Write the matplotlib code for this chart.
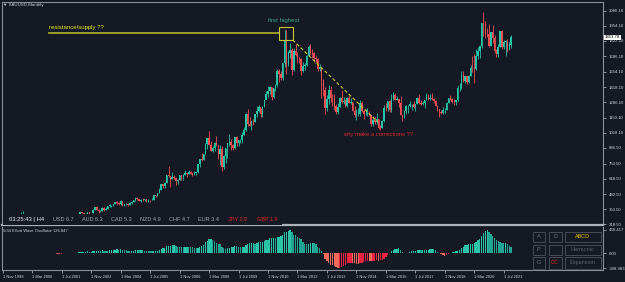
import numpy as np
import matplotlib.pyplot as plt
from matplotlib.patches import Rectangle
from matplotlib.transforms import blended_transform_factory

plt.rcParams['font.family'] = ['Liberation Sans', 'DejaVu Sans']

W, H = 625, 282
BG = '#151924'

# XAUUSD monthly candles, Nov 1998 .. Nov 2021 (one row per year)
first_open = 292
closes = [
    294, 288,
    287, 287, 280, 286, 268, 261, 255, 254, 299, 299, 291, 290,
    283, 293, 277, 274, 272, 288, 277, 277, 273, 264, 269, 272,
    265, 266, 258, 264, 266, 270, 266, 273, 293, 279, 275, 279,
    282, 297, 302, 308, 326, 318, 304, 312, 324, 317, 317, 348,
    368, 348, 334, 339, 364, 346, 354, 375, 385, 386, 398, 417,
    402, 396, 426, 388, 393, 395, 391, 408, 416, 428, 453, 438,
    422, 435, 428, 436, 417, 435, 429, 433, 473, 470, 495, 517,
    568, 556, 583, 654, 643, 613, 633, 624, 599, 604, 646, 632,
    650, 665, 662, 680, 658, 650, 666, 673, 743, 789, 783, 834,
    923, 972, 916, 863, 886, 926, 913, 833, 880, 718, 814, 882,
    928, 942, 916, 883, 979, 926, 954, 955, 1001, 1040, 1182, 1097,
    1081, 1118, 1113, 1180, 1213, 1244, 1181, 1248, 1307, 1357, 1386, 1421,
    1333, 1410, 1439, 1556, 1536, 1500, 1628, 1828, 1620, 1717, 1746, 1564,
    1738, 1697, 1669, 1664, 1561, 1604, 1614, 1692, 1773, 1719, 1713, 1675,
    1663, 1579, 1595, 1476, 1393, 1234, 1312, 1396, 1326, 1323, 1250, 1202,
    1240, 1326, 1284, 1296, 1250, 1327, 1282, 1287, 1210, 1172, 1182, 1184,
    1283, 1213, 1183, 1183, 1190, 1172, 1095, 1132, 1115, 1142, 1065, 1061,
    1118, 1238, 1233, 1293, 1215, 1322, 1351, 1309, 1316, 1275, 1173, 1151,
    1211, 1249, 1249, 1268, 1269, 1242, 1269, 1322, 1280, 1271, 1275, 1303,
    1345, 1318, 1325, 1315, 1299, 1253, 1224, 1201, 1192, 1215, 1222, 1282,
    1321, 1313, 1292, 1284, 1305, 1409, 1414, 1520, 1472, 1513, 1464, 1517,
    1589, 1585, 1577, 1687, 1730, 1781, 1975, 1968, 1886, 1879, 1777, 1898,
    1847, 1734, 1708, 1769, 1907, 1770, 1814, 1814, 1743, 1783, 1853.78,
]
highs = [
    300, 297,
    293, 292, 290, 292, 289, 270, 264, 261, 326, 339, 301, 293,
    292, 313, 299, 288, 280, 296, 292, 281, 280, 274, 270, 275,
    273, 270, 272, 264, 277, 275, 272, 280, 294, 294, 279, 280,
    283, 302, 304, 310, 327, 330, 322, 316, 324, 325, 322, 349,
    372, 382, 353, 341, 372, 368, 366, 379, 396, 389, 398, 417,
    427, 418, 428, 427, 396, 405, 409, 415, 419, 431, 456, 457,
    443, 436, 446, 438, 437, 442, 432, 447, 474, 477, 497, 538,
    573, 575, 588, 654, 730, 639, 677, 651, 627, 613, 649, 650,
    659, 690, 673, 693, 685, 672, 683, 679, 745, 790, 845, 836,
    927, 975, 1033, 950, 905, 937, 988, 916, 912, 904, 825, 890,
    932, 1005, 962, 917, 980, 989, 960, 963, 1024, 1070, 1195, 1226,
    1161, 1126, 1136, 1181, 1249, 1265, 1237, 1249, 1308, 1388, 1424, 1431,
    1423, 1411, 1448, 1575, 1577, 1556, 1632, 1913, 1921, 1730, 1804, 1764,
    1764, 1791, 1721, 1677, 1671, 1640, 1632, 1700, 1787, 1796, 1755, 1725,
    1694, 1676, 1617, 1598, 1487, 1416, 1348, 1434, 1424, 1361, 1361, 1267,
    1280, 1333, 1392, 1331, 1315, 1332, 1345, 1322, 1287, 1255, 1224, 1238,
    1307, 1297, 1219, 1224, 1232, 1205, 1174, 1170, 1157, 1191, 1143, 1088,
    1128, 1263, 1283, 1298, 1303, 1362, 1375, 1367, 1342, 1318, 1337, 1178,
    1220, 1264, 1261, 1295, 1270, 1296, 1270, 1331, 1357, 1306, 1299, 1307,
    1366, 1361, 1356, 1369, 1326, 1309, 1265, 1215, 1214, 1243, 1237, 1284,
    1326, 1346, 1324, 1310, 1306, 1439, 1452, 1555, 1557, 1518, 1516, 1525,
    1611, 1689, 1704, 1748, 1765, 1789, 1981, 2075, 1992, 1933, 1966, 1900,
    1959, 1871, 1755, 1798, 1912, 1917, 1832, 1834, 1836, 1813, 1877,
]
lows = [
    290, 284,
    283, 282, 278, 279, 268, 257, 253, 252, 254, 290, 289, 279,
    281, 282, 276, 271, 266, 270, 275, 270, 270, 263, 263, 268,
    263, 254, 256, 257, 263, 264, 265, 265, 270, 277, 271, 271,
    277, 281, 290, 299, 307, 314, 302, 302, 312, 311, 316, 317,
    345, 345, 322, 324, 335, 338, 342, 352, 372, 369, 382, 397,
    398, 392, 391, 382, 375, 388, 382, 389, 400, 413, 423, 428,
    419, 415, 424, 420, 414, 414, 418, 429, 433, 461, 469, 491,
    516, 538, 538, 583, 636, 543, 615, 614, 560, 568, 602, 608,
    604, 648, 636, 662, 655, 637, 647, 649, 671, 722, 773, 780,
    834, 880, 908, 856, 848, 856, 906, 787, 737, 681, 703, 754,
    802, 904, 865, 866, 880, 905, 904, 931, 930, 1002, 1033, 1075,
    1075, 1045, 1088, 1115, 1158, 1204, 1156, 1157, 1241, 1316, 1330, 1360,
    1308, 1326, 1381, 1423, 1462, 1478, 1480, 1598, 1535, 1604, 1676, 1523,
    1563, 1688, 1627, 1626, 1527, 1548, 1565, 1599, 1686, 1696, 1673, 1636,
    1626, 1555, 1563, 1321, 1338, 1180, 1208, 1270, 1291, 1251, 1221, 1187,
    1182, 1240, 1277, 1268, 1240, 1240, 1280, 1273, 1206, 1161, 1131, 1170,
    1167, 1197, 1142, 1175, 1170, 1162, 1077, 1080, 1098, 1098, 1052, 1046,
    1060, 1110, 1208, 1208, 1200, 1200, 1309, 1302, 1302, 1242, 1171, 1122,
    1146, 1180, 1195, 1245, 1214, 1236, 1205, 1267, 1272, 1261, 1264, 1237,
    1302, 1307, 1303, 1302, 1281, 1251, 1211, 1160, 1180, 1182, 1196, 1222,
    1275, 1303, 1281, 1266, 1266, 1296, 1382, 1400, 1459, 1458, 1445, 1452,
    1517, 1547, 1451, 1568, 1666, 1671, 1757, 1863, 1849, 1860, 1765, 1775,
    1802, 1717, 1677, 1677, 1766, 1750, 1751, 1688, 1721, 1746, 1758,
]
opens = [first_open] + closes[:-1]

# 5/34 Elliott Wave Oscillator, from Apr 2001 (bar 29) on
ewo_start = 29
ewo_values = [
    -12, -13.2, -12.2, -11.5, -8.3, -2.4, 0.3, 1.7, 4.6,
    5.3, 5, 8.5, 13.9, 22.2, 28.3, 28.9, 30.1, 32.4, 29.8, 28.8, 36.8,
    45.9, 48.5, 49.8, 52.1, 53.1, 46.6, 44.3, 49.1, 54.8, 55.7, 62.7, 71.8,
    73.3, 71.5, 75.6, 69.7, 60.9, 55.6, 50.5, 42.9, 44.4, 47.3, 54.9, 60.2,
    59.6, 59.9, 56.5, 49.7, 42, 41.2, 36.1, 33.2, 36.7, 43.4, 51.5, 65.2,
    84.8, 94, 109.3, 133.7, 151.5, 153.1, 161.9, 163.4, 145.8, 131.4, 131.3, 124.5,
    122, 127.6, 131.5, 130.6, 128.2, 120.5, 111.4, 104.3, 107.6, 124.5, 141.8, 166.1,
    215, 255, 280, 285, 270, 245, 207.4, 181.2, 174.9, 131.7, 99.7, 83.9,
    94, 97.4, 128.1, 133, 143.4, 134.1, 124.6, 120.4, 132.1, 132.4, 171.6, 188.3,
    199, 207.9, 208, 193.1, 201.8, 219.9, 218.5, 231.5, 242.9, 257.7, 272.1, 306.1,
    306.2, 310, 309.5, 326.7, 332.8, 349.4, 368.8, 422.4, 425, 440, 468.417, 420,
    371.7, 366, 335.2, 297.6, 275.9, 227.9, 193.3, 179.9, 183.8, 197.4, 201.2, 195.4,
    181, 133.5, 100.1, 44.1, -21, -115.4, -166.8, -204.6, -232.7, -250, -252, -275,
    -308.983, -295, -288, -254.7, -236.5, -210.4, -205.7, -191.5, -195.2, -197.2, -212.7, -218.7,
    -206.8, -193.6, -178.8, -165.9, -152.1, -161.6, -168, -161, -157.4, -149.8, -153.9, -143.5,
    -141.5, -112, -89, -38.6, -2.9, 42.7, 65.8, 81.4, 86.5, 98.9, 69.6, 30,
    11.6, -0.7, -4.7, 15.5, 40.2, 47.6, 49.3, 61.5, 61.6, 59.7, 63.9, 68.4,
    68.6, 71.8, 78.2, 81.8, 76.6, 53.8, 32.1, 4.3, -23.2, -42.9, -52.1, -43.4,
    -20.4, 2.8, 17.3, 28.7, 32.3, 48.9, 61.6, 99.7, 129.9, 164, 167.5, 180.6,
    183, 194.2, 195.5, 228.7, 259.9, 286.9, 347.3, 407.9, 450, 460, 430, 390.9,
    351.4, 305.7, 256.3, 239.4, 225.9, 195.2, 195, 200, 178.6, 137.5, 126.847,
]

x_labels = ['1 Nov 1998', '1 Mar 2000', '1 Jul 2001', '1 Nov 2002', '1 Mar 2004',
            '1 Jul 2005', '1 Nov 2006', '1 Mar 2008', '1 Jul 2009', '1 Nov 2010',
            '1 Mar 2012', '1 Jul 2013', '1 Nov 2014', '1 Mar 2016', '1 Jul 2017',
            '1 Nov 2018', '1 Mar 2020', '1 Jul 2021']
y_ticks = [2086.10, 1954.10, 1822.10, 1686.10, 1554.10, 1418.10, 1286.10, 1150.10,
           1018.10, 886.50, 750.50, 618.50, 482.50, 350.50, 218.50]
osc_ticks = [468.417, 0.0, -308.983]
osc_tick_labels = ['468.417', '0.00', '-308.983']

strength = [('USD 6.7', 53, '#9ea3ab'), ('AUD 6.3', 82, '#9ea3ab'), ('CAD 5.3', 111, '#9ea3ab'),
            ('NZD 4.9', 140, '#9ea3ab'), ('CHF 4.7', 169, '#9ea3ab'), ('EUR 3.4', 198, '#9ea3ab'),
            ('JPY 2.9', 228, '#e02828'), ('GBP 1.9', 257, '#e02828')]

# ---- layout (pixel based, like the terminal window)
fig = plt.figure(figsize=(W / 100, H / 100), dpi=100, facecolor=BG)
ax = fig.add_axes([2 / W, 1 - 225 / H, 601 / W, 223 / H], facecolor=BG)
osc = fig.add_axes([2 / W, 1 - 270 / H, 601 / W, 43 / H], facecolor=BG, sharex=ax)

idx = np.arange(len(closes))
o = np.array(opens, dtype=float)
c = np.array(closes, dtype=float)
hi = np.array(highs, dtype=float)
lo = np.array(lows, dtype=float)
bull = c >= o
cols = np.where(bull, '#26c4a6', '#ef4f55')

ax.vlines(idx, lo, hi, colors=cols, lw=0.6, zorder=2)
body = np.maximum(np.abs(c - o), 3)
ax.bar(idx, body, bottom=np.minimum(o, c), width=0.8, color=cols, lw=0, zorder=3)

ax.set_xlim(-0.4, -0.4 + 601 / 1.842)
ax.set_ylim(213, 2162)

grey = '#8a8e96'
for s in ['left', 'top', 'right']:
    ax.spines[s].set_color(grey)
    ax.spines[s].set_linewidth(0.8)
ax.spines['bottom'].set_color('#aeb2ba')
ax.spines['bottom'].set_linewidth(1.6)
ax.tick_params(axis='x', bottom=False, labelbottom=False)
ax.yaxis.tick_right()
ax.set_yticks(y_ticks, [f'{v:.2f}' for v in y_ticks])
ax.tick_params(axis='y', length=2.5, width=0.6, color='#a0a4ab', labelsize=3.1,
               labelcolor='#d0d3da', pad=1.5)

# last price box
tr = blended_transform_factory(ax.transAxes, ax.transData)
ax.text(1.003, closes[-1], f'{closes[-1]:.2f}', transform=tr, fontsize=3.1, color='black',
        va='center', ha='left', bbox=dict(boxstyle='square,pad=0.15', fc='white', ec='none'),
        clip_on=False, zorder=10)

# drawings on the chart
ax.plot([25, 149.8], [1888, 1888], color='#a4a42a', lw=1.3, zorder=4)
ax.add_patch(Rectangle((149.8, 1830), 7.6, 114, fill=False, ec='#c8c832', lw=0.8, zorder=4))
ax.plot([157.4, 203.6], [1830, 1113], color='#c8c832', lw=0.8, ls=(0, (3, 2)), zorder=4)
ax.text(25, 1939, 'resistance/supply ??', color='#e6e61e', fontsize=4.3, va='center', ha='left')
ax.text(152.5, 2000, 'first highest', color='#35a884', fontsize=4.4, va='center', ha='center')
ax.text(204, 1004, 'why make a corrections ??', color='#d42a2a', fontsize=4.2,
        va='center', ha='center')

# info row at the bottom of the price window
ax.add_patch(Rectangle((3 / W, 1 - 224.5 / H), 279 / W, 11 / H, transform=fig.transFigure,
                       fc=BG, ec='none', zorder=6))
fig.text(9 / W, 1 - 219.5 / H, '03:25:43 | H4', color='#f0f0f0', fontsize=4.2, va='center')
for label, px, col in strength:
    fig.text(px / W, 1 - 219.5 / H, label, color=col, fontsize=4.0, va='center')
fig.text(3 / W, 1 - 5 / H, '\u25bc XAUUSD,Monthly', color='#d0d3da', fontsize=3.2, va='center')

# ---- oscillator window
ewo = np.array(ewo_values)
ewo_idx = np.arange(ewo_start, ewo_start + len(ewo))
rising = np.diff(ewo, prepend=ewo[0]) >= 0
ewo_cols = np.where(ewo >= 0,
                    np.where(rising, '#2bc4a8', '#21a592'),
                    np.where(rising, '#ea2440', '#f06a5e'))
osc.bar(ewo_idx, ewo, width=0.7, color=ewo_cols, lw=0)
osc.set_ylim(-343, 529)

for s in ['left', 'right', 'bottom']:
    osc.spines[s].set_color(grey)
    osc.spines[s].set_linewidth(0.8)
osc.spines['top'].set_visible(False)
osc.yaxis.tick_right()
osc.set_yticks(osc_ticks, osc_tick_labels)
osc.tick_params(axis='y', length=2.5, width=0.6, color='#a0a4ab', labelsize=3.1,
                labelcolor='#d0d3da', pad=1.5)
osc.set_xticks(np.arange(0, len(closes), 16), x_labels, ha='left')
osc.tick_params(axis='x', length=2.5, width=0.6, color='#a0a4ab', labelsize=2.9,
                labelcolor='#d0d3da', pad=1.2)
fig.text(3 / W, 1 - 230.5 / H, '5/34 Elliott Wave Oscillator 126.847', color='#d0d3da',
         fontsize=3.0, va='center')

# pattern buttons
buttons = [('A', 533, 232, 11.5, 10, '#6d717a'), ('D', 548.5, 232, 13, 10, '#6d717a'),
           ('ABCD', 564.5, 232, 36, 10, '#e6c200'),
           ('P', 533, 244.5, 11.5, 10, '#6d717a'), ('', 548.5, 244.5, 13, 10, '#6d717a'),
           ('Harmonic', 564.5, 244.5, 36, 10, '#5c6069'),
           ('G', 533, 257, 11.5, 11.5, '#6d717a'), ('CC', 548.5, 257, 13, 11.5, '#e02020'),
           ('Expansion', 564.5, 257, 36, 11.5, '#5c6069')]
for label, bx, by, bw, bh, col in buttons:
    fig.patches.append(Rectangle((bx / W, 1 - (by + bh) / H), bw / W, bh / H,
                                 transform=fig.transFigure, fc='#161a24', ec='#474b55', lw=0.7))
    fig.text((bx + bw / 2) / W, 1 - (by + bh / 2) / H, label, color=col, fontsize=4.0,
             ha='center', va='center')

fig.savefig('out.png', dpi=100, facecolor=BG)
